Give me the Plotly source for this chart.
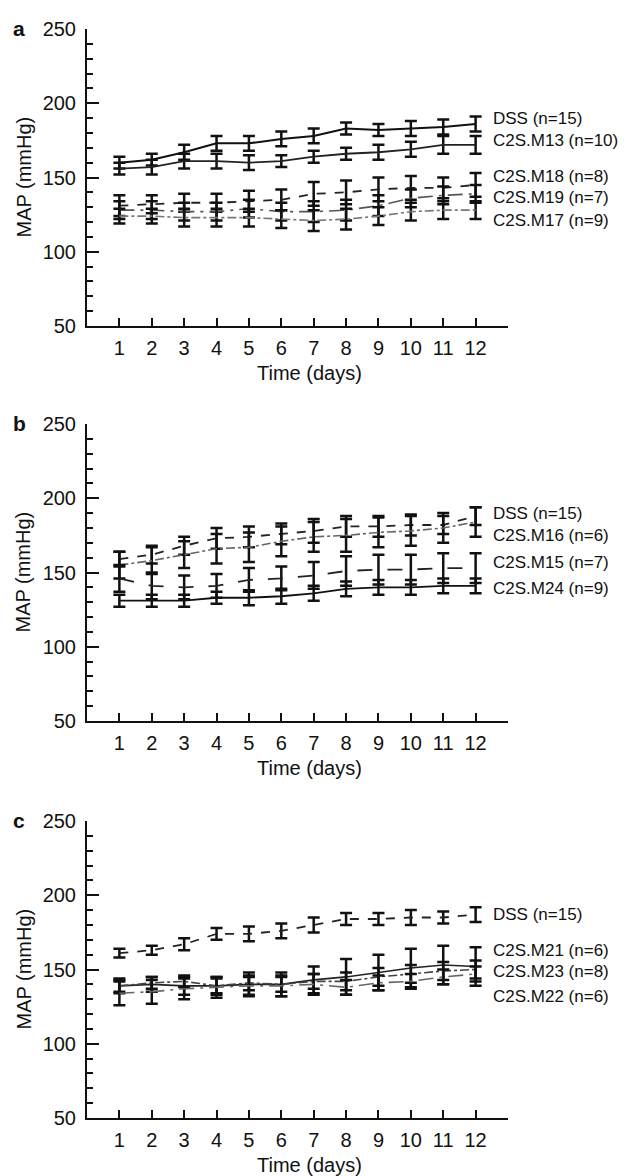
import plotly.graph_objects as go

days = list(range(1, 13))
x_ticks = list(range(0, 14))
x_ticktext = [""] + [str(d) for d in days] + [""]
y_ticks = [50, 100, 150, 200, 250]

# Panel a
a_dss = [160, 162, 167, 173, 173, 176, 178, 183, 182, 183, 184, 186]
a_dss_err = [4, 4, 5, 5, 5, 5, 5, 4, 4, 5, 5, 5]
a_m13 = [156, 157, 161, 161, 160, 161, 164, 166, 167, 169, 172, 172]
a_m13_err = [4, 5, 5, 5, 5, 4, 4, 4, 5, 5, 6, 6]
a_m18 = [131, 132, 133, 133, 134, 135, 139, 140, 142, 143, 143, 145]
a_m18_err = [7, 6, 6, 6, 7, 7, 8, 8, 8, 8, 7, 8]
a_m19 = [128, 128, 127, 127, 129, 127, 127, 128, 131, 136, 138, 139]
a_m19_err = [6, 6, 6, 6, 6, 6, 7, 7, 7, 6, 6, 6]
a_m17 = [124, 124, 123, 123, 123, 122, 121, 122, 124, 127, 128, 128]
a_m17_err = [5, 5, 6, 6, 6, 6, 7, 7, 6, 6, 6, 6]

# Panel b
b_dss = [159, 162, 168, 173, 174, 176, 178, 181, 181, 182, 182, 188]
b_dss_err = [5, 6, 6, 7, 7, 7, 8, 7, 7, 7, 6, 6]
b_m16 = [155, 158, 162, 166, 167, 171, 174, 175, 177, 178, 180, 184]
b_m16_err = [9, 9, 9, 10, 10, 10, 10, 11, 10, 10, 10, 10]
b_m15 = [146, 141, 140, 141, 145, 146, 148, 151, 152, 152, 153, 153]
b_m15_err = [9, 9, 8, 8, 8, 8, 9, 10, 10, 10, 10, 10]
b_m24 = [131, 131, 131, 133, 133, 134, 136, 139, 140, 140, 141, 141]
b_m24_err = [4, 4, 4, 4, 5, 5, 5, 5, 5, 5, 5, 5]

# Panel c
c_dss = [161, 163, 167, 174, 174, 176, 180, 184, 184, 185, 185, 187]
c_dss_err = [3, 3, 4, 4, 5, 5, 5, 4, 4, 5, 4, 5]
c_m21 = [139, 140, 139, 139, 140, 140, 143, 145, 148, 151, 153, 152]
c_m21_err = [5, 5, 6, 6, 8, 8, 9, 12, 12, 13, 13, 13]
c_m23 = [139, 141, 142, 139, 141, 140, 142, 142, 145, 147, 149, 150]
c_m23_err = [4, 4, 4, 5, 5, 5, 5, 6, 6, 6, 6, 6]
c_m22 = [134, 135, 137, 138, 139, 139, 140, 138, 141, 142, 145, 147]
c_m22_err = [8, 8, 7, 7, 6, 7, 7, 5, 5, 5, 5, 5]

FONT = "Liberation Sans, Arial, Helvetica, sans-serif"
FS = 20
FS_LAB = 17

OFF = 8  # page body margin
W, H = 629 - OFF, 1176 - OFF
L, T = 87 - OFF, 18 - OFF
R = W - (508 - OFF)
B = H - (1118 - OFF)
PW = W - L - R
PH = H - T - B


def py(p):
    # p: target pixel y in the 629x1176 screenshot
    return 1 - (p - OFF - T) / PH


def px(p):
    return (p - OFF - L) / PW


fig = go.Figure()


def add(vals, err, n, dash, color, width):
    fig.add_trace(go.Scatter(
        x=days, y=vals, mode="lines",
        line=dict(dash=dash, color=color, width=width),
        error_y=dict(type="data", array=err, color="#111111", thickness=2.5, width=6),
        xaxis="x" if n == 1 else f"x{n}", yaxis="y" if n == 1 else f"y{n}",
        showlegend=False, hoverinfo="skip"))


add(a_dss, a_dss_err, 1, "solid", "#111111", 2)
add(a_m13, a_m13_err, 1, "solid", "#222222", 1.8)
add(a_m18, a_m18_err, 1, "dash", "#222222", 1.8)
add(a_m19, a_m19_err, 1, "longdashdot", "#555555", 1.6)
add(a_m17, a_m17_err, 1, "dashdot", "#777777", 1.6)

add(b_dss, b_dss_err, 2, "dash", "#222222", 1.8)
add(b_m16, b_m16_err, 2, "dashdot", "#666666", 1.6)
add(b_m15, b_m15_err, 2, "longdash", "#222222", 1.8)
add(b_m24, b_m24_err, 2, "solid", "#111111", 1.8)

add(c_dss, c_dss_err, 3, "dash", "#222222", 1.8)
add(c_m21, c_m21_err, 3, "solid", "#222222", 1.6)
add(c_m23, c_m23_err, 3, "dashdot", "#444444", 1.6)
add(c_m22, c_m22_err, 3, "longdashdot", "#666666", 1.6)

panels = [(318, 18), (717, 417), (1118, 818)]
layout = dict(
    width=W, height=H,
    margin=dict(l=L, r=R, t=T, b=B, pad=0),
    paper_bgcolor="white", plot_bgcolor="white",
    font=dict(family=FONT, size=FS, color="#111111"),
)
for i, (bot, top) in enumerate(panels, start=1):
    sx = "" if i == 1 else str(i)
    layout[f"xaxis{sx}"] = dict(
        domain=[0, 1], anchor=f"y{sx}", range=[0, 13],
        tickvals=x_ticks, ticktext=x_ticktext,
        ticks="inside", ticklen=8, tickwidth=2, tickcolor="#111111",
        showline=True, linewidth=2, linecolor="#111111",
        showgrid=False, zeroline=False, tickfont=dict(size=FS),
        ticklabelstandoff=3,
    )
    layout[f"yaxis{sx}"] = dict(
        domain=[py(bot), py(top)], anchor=f"x{sx}", range=[50, 250],
        tickvals=y_ticks, ticks="inside", ticklen=12, tickwidth=2, tickcolor="#111111",
        minor=dict(dtick=10, ticks="inside", ticklen=6, tickwidth=1.5, tickcolor="#111111", showgrid=False),
        showline=True, linewidth=2, linecolor="#111111",
        showgrid=False, zeroline=False, tickfont=dict(size=FS),
        ticklabelstandoff=5,
    )
fig.update_layout(**layout)

anns = []
letters = ["a", "b", "c"]
for i, (bot, top) in enumerate(panels):
    anns.append(dict(text=f"<b>{letters[i]}</b>", xref="paper", yref="paper",
                     x=px(19), y=py(top - 1), xanchor="center", yanchor="middle",
                     showarrow=False, font=dict(size=FS + 1)))
    anns.append(dict(text="MAP (mmHg)", xref="paper", yref="paper", textangle=-90,
                     x=px(23), y=py((bot + top) / 2), xanchor="center", yanchor="middle",
                     showarrow=False, font=dict(size=FS)))
    anns.append(dict(text="Time (days)", xref="paper", yref="paper",
                     x=px(309), y=py(bot + 47), xanchor="center", yanchor="middle",
                     showarrow=False, font=dict(size=FS)))

labels = [
    ("y", [("DSS (n=15)", 190), ("C2S.M13 (n=10)", 174.7), ("C2S.M18 (n=8)", 150.7),
           ("C2S.M19 (n=7)", 136.7), ("C2S.M17 (n=9)", 121.3)]),
    ("y2", [("DSS (n=15)", 190), ("C2S.M16 (n=6)", 174.7), ("C2S.M15 (n=7)", 156.7),
            ("C2S.M24 (n=9)", 139.3)]),
    ("y3", [("DSS (n=15)", 187.3), ("C2S.M21 (n=6)", 162.7), ("C2S.M23 (n=8)", 148.7),
            ("C2S.M22 (n=6)", 132)]),
]
for yref, items in labels:
    for txt, yv in items:
        anns.append(dict(text=txt, xref="paper", yref=yref, x=px(491), y=yv,
                         xanchor="left", yanchor="middle", showarrow=False,
                         font=dict(size=FS_LAB)))

fig.update_layout(annotations=anns)
fig.write_html("out.html")
